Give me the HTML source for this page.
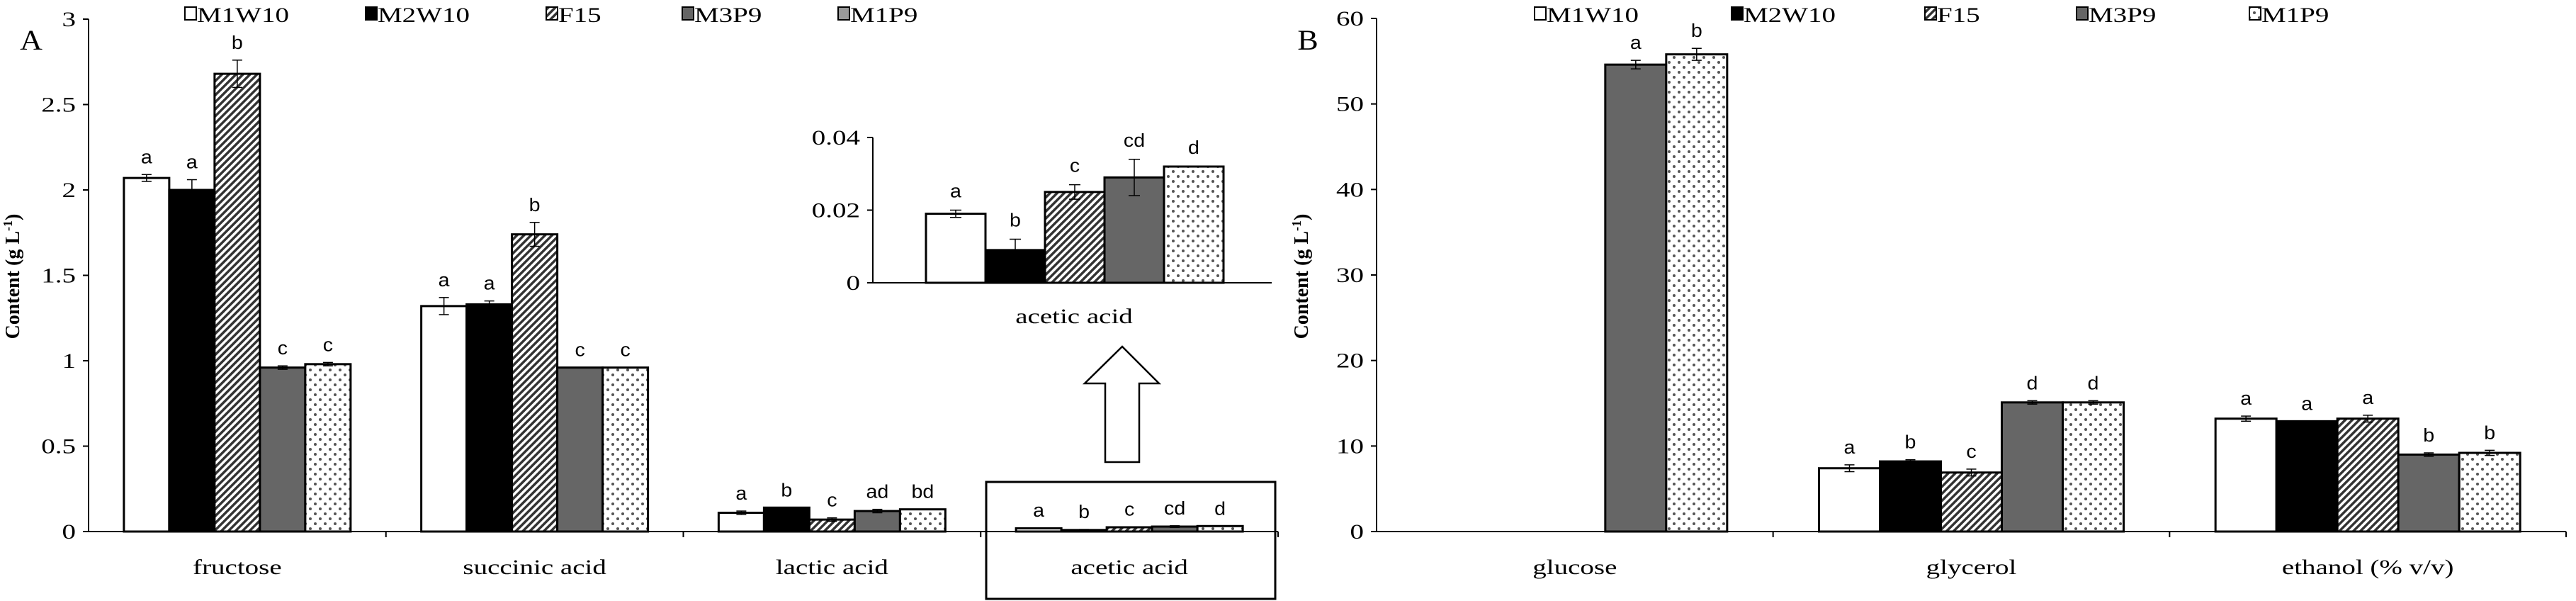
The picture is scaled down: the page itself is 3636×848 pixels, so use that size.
<!DOCTYPE html>
<html><head><meta charset="utf-8"><style>
html,body{margin:0;padding:0;background:#fff;}
svg{display:block;}
</style></head><body>
<svg id="fig" width="3636" height="848" viewBox="0 0 3636 848" xmlns="http://www.w3.org/2000/svg">
<defs>
<pattern id="hatch" patternUnits="userSpaceOnUse" width="7" height="7" patternTransform="rotate(45)"><rect width="7" height="7" fill="#fff"/><rect width="3.5" height="7" fill="#333"/></pattern>
<pattern id="dots" patternUnits="userSpaceOnUse" width="14" height="14"><rect width="14" height="14" fill="#fff"/><circle cx="4" cy="4" r="2" fill="#555"/><circle cx="11" cy="11" r="2" fill="#555"/></pattern>
</defs>
<g id="root"></g>
</svg>
<script>
const series = ["M1W10","M2W10","F15","M3P9","M1P9"];
const fills = ["#fff","#000","url(#hatch)","#666","url(#dots)"];
const catsA = ["fructose","succinic acid","lactic acid","acetic acid"];
const valsA = [[2.07,2.00,2.68,0.96,0.98],[1.32,1.33,1.74,0.96,0.96],[0.11,0.14,0.07,0.12,0.13],[0.019,0.009,0.025,0.029,0.032]];
const errA = [[0.02,0.06,0.08,0.01,0.01],[0.05,0.02,0.07,0,0],[0.01,0,0.01,0.01,0],[0.001,0.003,0.002,0.005,0]];
const letA = [["a","a","b","c","c"],["a","a","b","c","c"],["a","b","c","ad","bd"],["a","b","c","cd","d"]];
const ticksA = [0,0.5,1,1.5,2,2.5,3];
const ticksAlbl = ["0","0.5","1","1.5","2","2.5","3"];
const ticksIn = [0,0.02,0.04];
const ticksInLbl = ["0","0.02","0.04"];
const catsB = ["glucose","glycerol","ethanol (% v/v)"];
const valsB = [[0,0,0,54.6,55.8],[7.4,8.2,6.9,15.1,15.1],[13.2,12.9,13.2,9.0,9.2]];
const errB = [[0,0,0,0.5,0.7],[0.4,0.2,0.4,0.2,0.2],[0.3,0,0.4,0.2,0.3]];
const letB = [["","","","a","b"],["a","b","c","d","d"],["a","a","a","b","b"]];
const ticksB = [0,10,20,30,40,50,60];

const NS="http://www.w3.org/2000/svg";
const root=document.getElementById('root');
function el(tag,attrs,parent){const e=document.createElementNS(NS,tag);for(const k in attrs)e.setAttribute(k,attrs[k]);(parent||root).appendChild(e);return e;}
function txt(s,x,y,size,anchor,font,parent,sx){
  const t=el('text',{transform:`translate(${x},${y}) scale(${sx||1.3},1)`,'font-size':size,'text-anchor':anchor||'middle','font-family':font||'"Liberation Serif",serif',fill:'#000'},parent);
  t.textContent=s;return t;}

function panel(o){
  const g=el('g',{});
  
  
  const Y=v=>o.y0-(v/o.ymax)*(o.y0-o.ytop);
  const gw=(o.x1-o.x0)/o.cats.length;
  const bw=o.bw, pad=(gw-5*bw)/2;
  // y axis
  const ya=el('line',{x1:o.x0,y1:o.ytop,x2:o.x0,y2:o.y0,stroke:'#000','stroke-width':2},g);
  
  o.ticks.forEach((t,i)=>{
    el('line',{x1:o.x0-8,y1:Y(t),x2:o.x0,y2:Y(t),stroke:'#000','stroke-width':2},g);
    const l=txt(o.tickLbl[i],o.x0-18,Y(t)+10,30,'end',null,g);
    
  });
  const xa=el('line',{x1:o.x0,y1:o.y0,x2:o.x1,y2:o.y0,stroke:'#000','stroke-width':2},g);
  
  o.cats.forEach((c,ci)=>{
    const gx=o.x0+ci*gw;
    el('line',{x1:gx+gw,y1:o.y0,x2:gx+gw,y2:o.y0+8,stroke:'#000','stroke-width':2},g);
    const cl=txt(c,gx+gw/2,o.y0+60,30,'middle',null,g);
    
    o.vals[ci].forEach((v,si)=>{
      if(v<=0)return;
      const bx=gx+pad+si*bw;
      const r=el('rect',{x:bx,y:Y(v),width:bw,height:o.y0-Y(v),fill:fills[si],stroke:'#000','stroke-width':3},g);
      
      const e=o.err[ci][si], cx=bx+bw/2;
      if(e>0){
        el('line',{x1:cx,y1:Y(v+e),x2:cx,y2:Y(v-e),stroke:'#000','stroke-width':1.5},g);
        el('line',{x1:cx-7,y1:Y(v+e),x2:cx+7,y2:Y(v+e),stroke:'#000','stroke-width':1.5},g);
        el('line',{x1:cx-7,y1:Y(v-e),x2:cx+7,y2:Y(v-e),stroke:'#000','stroke-width':1.5},g);
      }
      const L=o.lets[ci][si];
      if(L){const lt=txt(L,cx,(o.letY!=null?o.letY:Y(v+e)-16),26,'middle','"Liberation Sans",sans-serif',g,1.1);
        }
    });
  });
  return g;
}

// Panel A
panel({name:'panel-a-chart',x0:125,x1:1804,y0:750,ytop:27,ymax:3,cats:catsA,vals:valsA,err:errA,lets:letA,ticks:ticksA,tickLbl:ticksAlbl,bw:64});
// Fix acetic letters in main chart placed at fixed height
// Inset
(function(){
  const g=el('g',{});
  
  
  const x0=1232,x1=1795,y0=399,ytop=194,ymax=0.04;
  const Y=v=>y0-(v/ymax)*(y0-ytop);
  el('line',{x1:x0,y1:ytop,x2:x0,y2:y0,stroke:'#000','stroke-width':2},g);
  el('line',{x1:x0,y1:y0,x2:x1,y2:y0,stroke:'#000','stroke-width':2},g);
  ticksIn.forEach((t,i)=>{el('line',{x1:x0-8,y1:Y(t),x2:x0,y2:Y(t),stroke:'#000','stroke-width':2},g);
    const l=txt(ticksInLbl[i],x0-18,Y(t)+10,30,'end',null,g);
    });
  const bw=84, bx0=1307;
  valsA[3].forEach((v,si)=>{
    const bx=bx0+si*bw;
    const r=el('rect',{x:bx,y:Y(v),width:bw,height:y0-Y(v),fill:fills[si],stroke:'#000','stroke-width':3},g);
    
    const e=errA[3][si],cx=bx+bw/2;
    if(e>0){el('line',{x1:cx,y1:Y(v+e),x2:cx,y2:Y(v-e),stroke:'#000','stroke-width':1.5},g);
      el('line',{x1:cx-8,y1:Y(v+e),x2:cx+8,y2:Y(v+e),stroke:'#000','stroke-width':1.5},g);
      el('line',{x1:cx-8,y1:Y(v-e),x2:cx+8,y2:Y(v-e),stroke:'#000','stroke-width':1.5},g);}
    const lt=txt(letA[3][si],cx,Y(v+e)-18,26,'middle','"Liberation Sans",sans-serif',g,1.1);
    
  });
  const il=txt('acetic acid',1516,456,30,'middle',null,g);
  
  const ar=el('polygon',{points:'1584,489 1636,541 1608,541 1608,652 1560,652 1560,541 1531,541',fill:'#fff',stroke:'#000','stroke-width':2.5},g);
  
  const bx=el('rect',{x:1392,y:680,width:408,height:165,fill:'none',stroke:'#000','stroke-width':3},g);
  
})();
// Panel B
panel({name:'panel-b-chart',x0:1943,x1:3622,y0:750,ytop:26,ymax:60,cats:catsB,vals:valsB,err:errB,lets:letB,ticks:ticksB,tickLbl:ticksB.map(String),bw:86});

// Labels
const la=txt('A',44,70,40,'middle',null,root,1.1);

const lb=txt('B',1846,70,40,'middle',null,root,1.1);

[[17,'panel-a-y-axis-title'],[1836,'panel-b-y-axis-title']].forEach(([x,n])=>{
  const t=el('text',{transform:`translate(${x+10},390) rotate(-90)`,'font-size':28,'font-weight':'bold','text-anchor':'middle','font-family':'"Liberation Serif",serif'});
  
  
  t.innerHTML='Content (g L<tspan dy="-10" font-size="18">-1</tspan><tspan dy="10">)</tspan>';
});
// Legends
const legA=[261,516,771,963,1183], legB=[2166,2444,2717,2931,3175];
const legFillsA=["#fff","#000","url(#hatch)","#666","#999"];
[[legA,legFillsA,'legend-a'],[legB,fills,'legend-b']].forEach(([xs,fl,n])=>{
  const g=el('g',{});
  
  
  xs.forEach((x,i)=>{
    const r=el('rect',{x:x,y:10,width:16,height:18,fill:fl[i],stroke:'#000','stroke-width':2},g);
    
    const t=txt(series[i],x+17,31,30,'start',null,g);
    
  });
});
</script>
</body></html>
